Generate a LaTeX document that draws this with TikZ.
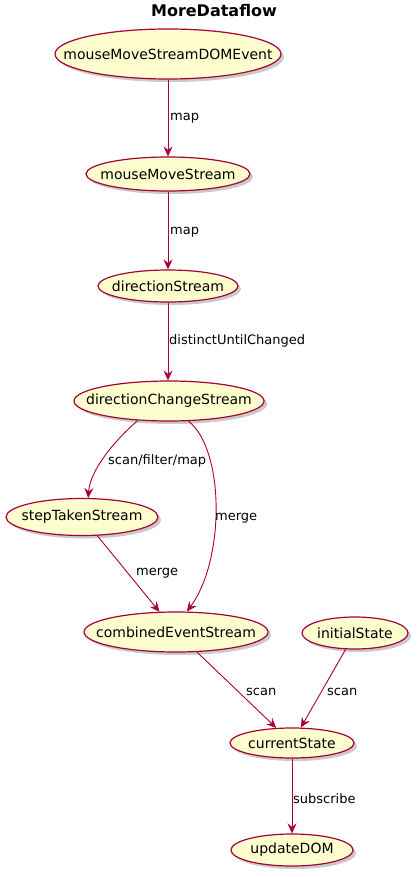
\documentclass[tikz,border=0pt]{standalone}
\usepackage{fontspec}
\setmainfont{DejaVu Sans}
\usetikzlibrary{shapes.geometric,arrows.meta,shadows}
\definecolor{ucfill}{HTML}{FEFECE}
\definecolor{ucline}{HTML}{A80036}
\tikzset{
  uc/.style={ellipse, draw=ucline, fill=ucfill, line width=1.2pt, inner sep=0pt,
    font=\fontsize{14}{16}\selectfont,
    drop shadow={opacity=0.35, shadow xshift=3pt, shadow yshift=-3pt, fill=black!60}},
  edge/.style={draw=ucline, line width=0.9pt, -{Stealth[length=10pt,width=9pt,inset=3.5pt]}},
  lbl/.style={anchor=west, inner sep=0pt, font=\fontsize{13}{15}\selectfont}
}
\begin{document}
\begin{tikzpicture}[x=1pt,y=-1pt]
\useasboundingbox (0,0) rectangle (418,877);
\node[font=\fontsize{16}{18}\selectfont\bfseries] (title) at (214,11) {MoreDataflow};

\node[uc, minimum width=226pt, minimum height=50pt] (mmsd) at (168,54) {\makebox[0pt]{mouseMoveStreamDOMEvent}};
\node[uc, minimum width=164pt, minimum height=34pt] (mms) at (168,174) {\makebox[0pt]{mouseMoveStream}};
\node[uc, minimum width=140pt, minimum height=32pt] (ds) at (168,286) {\makebox[0pt]{directionStream}};
\node[uc, minimum width=190pt, minimum height=40pt] (dcs) at (169,401) {\makebox[0pt]{directionChangeStream}};
\node[uc, minimum width=152pt, minimum height=37pt] (stp) at (82,517) {\makebox[0pt]{stepTakenStream}};
\node[uc, minimum width=184pt, minimum height=40pt] (ces) at (176,632) {\makebox[0pt]{combinedEventStream}};
\node[uc, minimum width=106pt, minimum height=32pt] (ini) at (355,633) {\makebox[0pt]{initialState}};
\node[uc, minimum width=124pt, minimum height=30pt] (cs) at (292,743) {\makebox[0pt]{currentState}};
\node[uc, minimum width=122pt, minimum height=32pt] (ud) at (292,850) {\makebox[0pt]{updateDOM}};

\draw[edge] (mmsd) -- (mms);
\draw[edge] (mms) -- (ds);
\draw[edge] (ds.south) -- (ds.south |- dcs.north);
\draw[edge] (dcs.212) .. controls (115,440) and (90,470) .. (stp.72);
\draw[edge] (dcs.-46) .. controls (225,450) and (225,560) .. (ces.62);
\draw[edge] (stp) -- (ces);
\draw[edge] (ces) -- (cs);
\draw[edge] (ini) -- (cs);
\draw[edge] (cs) -- (ud);

\node[lbl] (l1) at (170,118) {map};
\node[lbl] (l2) at (170,232) {map};
\node[lbl] (l3) at (169,341) {distinctUntilChanged};
\node[lbl] (l4) at (108,461) {scan/filter/map};
\node[lbl] (l5) at (215,518) {merge};
\node[lbl] (l6) at (136,573) {merge};
\node[lbl] (l7) at (246,692) {scan};
\node[lbl] (l8) at (327,692) {scan};
\node[lbl] (l9) at (293,799) {subscribe};
\end{tikzpicture}
\end{document}
